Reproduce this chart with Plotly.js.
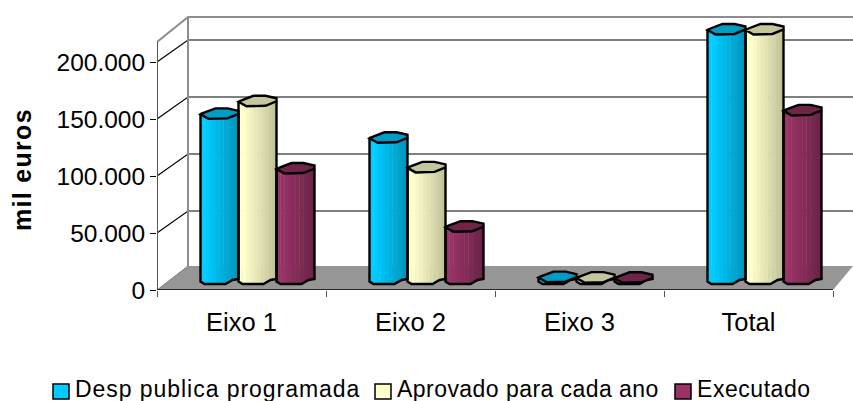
<!DOCTYPE html>
<html><head><meta charset="utf-8">
<script src="https://cdn.plot.ly/plotly-3.0.1.min.js"></script>
<style>html,body{margin:0;padding:0;background:#fff}</style></head>
<body><div id="chart" style="width:853px;height:401px"></div>
<script>
var categories = ['Eixo 1', 'Eixo 2', 'Eixo 3', 'Total'];
var despProgramada = [144000, 123000, 800, 218000];
var aprovado = [155000, 97000, 300, 218000];
var executado = [96000, 45000, 200, 147000];
var seriesNames = ['Desp publica programada', 'Aprovado para cada ano', 'Executado'];
var tickVals = [0, 50000, 100000, 150000, 200000];
var tickText = ['0', '50.000', '100.000', '150.000', '200.000'];

var seriesValues = [despProgramada, aprovado, executado];
var lightColors = [[0,204,255],[255,255,204],[153,51,102]];
var darkColors = [[0,150,190],[196,196,154],[108,36,72]];
var topColors = ['#009CC4','#C6C69C','#702448'];
var legendColors = ['#00CCFF','#FFFFCC','#993366'];

// scale helpers (category units / value units per pixel)
var PX_X = 169, PX_Y = 57 / 50000;
var plotL = 157, plotW = 696, plotB = 290, plotT = 10;
var dx = function (p) { return p / PX_X; };
var dy = function (p) { return p / PX_Y; };
var xOf = function (p) { return (p - plotL) / PX_X - 0.5; };
var yOf = function (p) { return (plotB - p) / PX_Y; };
var depthX = 31, depthY = 24;             // wall depth
var barW = 38, barLead = -41;             // first bar start relative to category centre
var floorUp = 12;                         // bars stand at mid depth
var nStrips = 10;

var bottom = [[0,3.5],[4,6],[25,6],[32,2],[38,1]];
var octagon = [[0,0.5],[8,5],[27,4.5],[38,0],[38,-3],[27,-5.5],[15,-5.5],[3,-1]];
function profile(r) {
  for (var i = 0; i < bottom.length - 1; i++) {
    var a = bottom[i], b = bottom[i + 1];
    if (r <= b[0]) return a[1] + (b[1] - a[1]) * (r - a[0]) / (b[0] - a[0]);
  }
  return bottom[bottom.length - 1][1];
}
function mix(a, b, t) {
  return 'rgb(' + a.map(function (v, i) { return Math.round(v + (b[i] - v) * t); }).join(',') + ')';
}

var traces = [], shapes = [];
var below = function (s) { s.layer = 'below'; shapes.push(s); };

// walls and floor
function poly(pts) {
  return pts.map(function (p, i) { return (i ? 'L' : 'M') + xOf(p[0]) + ',' + yOf(p[1]); }).join(' ');
}
below({type:'path', xref:'x', yref:'y', path: poly([[157,290],[188,266],[853,266],[833,290]]) + ' Z', fillcolor:'#969696', line:{width:0}});
tickVals.forEach(function (v) {
  if (v === 0) return;
  var py = plotB - v * PX_Y;
  below({type:'path', xref:'x', yref:'y', path: poly([[plotL,py],[plotL+depthX,py-depthY+2],[853,py-depthY+2]]), line:{color:'#000',width:1.2}});
});
below({type:'path', xref:'x', yref:'y', path: poly([[157,42],[188,17],[853,17]]), line:{color:'#8c8c8c',width:2}});
below({type:'path', xref:'x', yref:'y', path: poly([[188,17],[188,266]]), line:{color:'#8c8c8c',width:2}});
below({type:'path', xref:'x', yref:'y', path: poly([[157,290],[188,266]]), line:{color:'#808080',width:1}});
below({type:'path', xref:'x', yref:'y', path: poly([[157,42],[157,290]]), line:{color:'#555',width:2}});
below({type:'path', xref:'x', yref:'y', path: poly([[157,290],[833,290]]), line:{color:'#000',width:1.5}});

// bars: vertical strips give the cylinder shading
seriesValues.forEach(function (vals, s) {
  for (var k = 0; k < nStrips; k++) {
    var r = (k + 0.5) * barW / nStrips;
    var t = Math.min(1, Math.max(0, (k - 1) / (nStrips - 2)));
    var drop = profile(r);
    traces.push({
      type:'bar', name: seriesNames[s], x: categories.map(function (c, i) { return i; }),
      y: vals.map(function (v) { return v + dy(drop); }),
      base: vals.map(function () { return dy(floorUp - drop); }),
      offset: dx(barLead + s * barW + k * barW / nStrips),
      width: dx(barW / nStrips + 0.4),
      marker:{color: mix(lightColors[s], darkColors[s], t), line:{width:0}},
      text: categories, showlegend:false,
      hoverinfo: k === 0 ? 'name+y' : 'skip'
    });
  }
  vals.forEach(function (v, i) {
    var x0 = 241.5 + i * PX_X + barLead + s * barW;
    var cy = plotB - floorUp - v * PX_Y;
    var path = 'M' + xOf(x0) + ',' + yOf(cy);
    bottom.forEach(function (b) { path += ' L' + xOf(x0 + b[0]) + ',' + yOf(plotB - floorUp + b[1]); });
    path += ' L' + xOf(x0 + barW) + ',' + yOf(cy);
    shapes.push({type:'path', xref:'x', yref:'y', path: path, line:{color:'#000',width:2.4}});
    var oct = octagon.map(function (o, j) { return (j ? 'L' : 'M') + xOf(x0 + o[0]) + ',' + yOf(cy + o[1]); }).join(' ') + ' Z';
    shapes.push({type:'path', xref:'x', yref:'y', path: oct, fillcolor: topColors[s], line:{color:'#000',width:2.4}});
  });
});

// legend, axis title
var annotations = [{
  xref:'paper', yref:'paper', x:(22-plotL)/plotW, y:(plotB-170)/(plotB-plotT),
  text:'<span style="font-weight:bold;letter-spacing:1.3px">mil euros</span>', textangle:-90, showarrow:false, xanchor:'center', yanchor:'middle',
  font:{family:'Liberation Sans', size:25, color:'#000'}
}];
var legendSwatch = [53, 375, 675], legendText = [76, 398, 698], legendSpacing = [0.95, 0.45, 0.55];
seriesNames.forEach(function (n, s) {
  shapes.push({type:'rect', xref:'paper', yref:'paper',
    x0:(legendSwatch[s]-plotL)/plotW, x1:(legendSwatch[s]+16-plotL)/plotW,
    y0:(plotB-399)/(plotB-plotT), y1:(plotB-384)/(plotB-plotT),
    fillcolor:legendColors[s], line:{color:'#000',width:1.5}});
  annotations.push({xref:'paper', yref:'paper', x:(legendText[s]-plotL)/plotW, y:(plotB-388.5)/(plotB-plotT),
    text:'<span style="letter-spacing:' + legendSpacing[s] + 'px">' + n + '</span>', showarrow:false, xanchor:'left', yanchor:'middle', xshift:-3,
    font:{family:'Liberation Sans', size:23, color:'#000'}});
});

var layout = {
  width:853, height:401, autosize:false,
  margin:{l:plotL, r:0, t:plotT, b:401-plotB, pad:0},
  paper_bgcolor:'#fff', plot_bgcolor:'#fff',
  barmode:'overlay', showlegend:false,
  font:{family:'Liberation Sans', color:'#000'},
  xaxis:{range:[-0.5, xOf(853)], tickvals:[0,1,2,3], ticktext:categories, ticks:'', ticklabelstandoff:14,
    tickfont:{size:25.5}, showgrid:false, zeroline:false, showline:false,
    minor:{tickvals:[-0.5,0.5,1.5,2.5,3.5], ticks:'outside', ticklen:6, tickwidth:1, tickcolor:'#555', showgrid:false}},
  yaxis:{range:[0, yOf(plotT)], tickvals:tickVals, ticktext:tickText, ticks:'outside', ticklen:6, tickwidth:1, tickcolor:'#000',
    tickfont:{size:24.5}, showgrid:false, zeroline:false, showline:false},
  shapes:shapes, annotations:annotations
};
Plotly.newPlot('chart', traces, layout, {displayModeBar:false, staticPlot:true});
</script></body></html>
